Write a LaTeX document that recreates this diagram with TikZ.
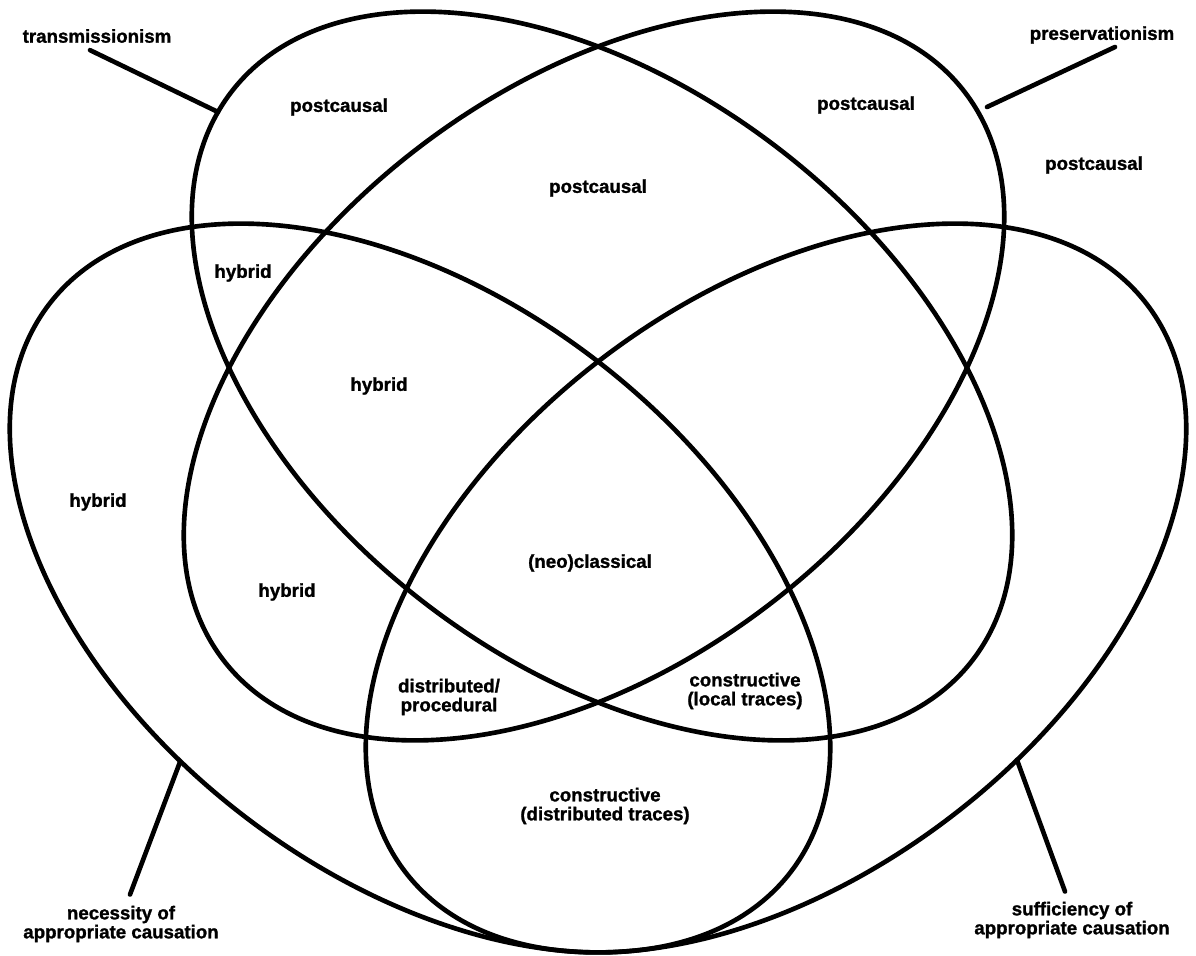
\documentclass[tikz,border=0pt]{standalone}
\usepackage{fontspec}
\setmainfont{Liberation Sans}[BoldFeatures={FakeBold=1.3}]
\begin{document}
\begin{tikzpicture}[x=0.025cm, y=-0.025cm, line join=round, line cap=round,
    txt/.style={font=\fontsize{13.3}{13.5}\selectfont\bfseries, align=center, inner sep=0pt},
    rim/.style={line width=3.3pt}]
\useasboundingbox (0,0) rectangle (1196,955);
\def\ra{467}\def\rb{288}
% the four sets: transmissionism, preservationism, necessity, sufficiency
\foreach \cx/\cy/\ang in {602/376/-37.4, 594/376/37.4, 420/588/-37.4, 776/588/37.4}
  \draw[rim, rotate around={\ang:(\cx,\cy)}] (\cx,\cy) ellipse [x radius=\ra, y radius=\rb];
% set names
\node[txt] (trans) at (97,36) {transmissionism};
\node[txt] (pres) at (1102,35) {preservationism};
\node[txt] (nec) at (121,924) {necessity of\\appropriate causation};
\node[txt] (suf) at (1072,920) {sufficiency of\\appropriate causation};
\coordinate (Tpin) at (218,112);
\coordinate (Ppin) at (987,107);
\coordinate (Npin) at (180,762);
\coordinate (Spin) at (1017,760);
\draw[rim] ([shift={(-7,7)}]trans.south) -- (Tpin);
\draw[rim] ([shift={(13,3)}]pres.south) -- (Ppin);
\draw[rim] ([shift={(9,-11)}]nec.north) -- (Npin);
\draw[rim] ([shift={(-7,-10)}]suf.north) -- (Spin);
% regions
\node[txt] (pcT) at (339,107) {postcausal};
\node[txt] (pcTP) at (598,188) {postcausal};
\node[txt] (pcP) at (866,105) {postcausal};
\node[txt] (pcOut) at (1094,165) {postcausal};
\node[txt] (hyTN) at (243,273) {hybrid};
\node[txt] (hyTPN) at (379,386) {hybrid};
\node[txt] (hyN) at (98,502) {hybrid};
\node[txt] (hyPN) at (287,592) {hybrid};
\node[txt] (neo) at (590,563) {(neo)classical};
\node[txt] (dist) at (449,697) {distributed/\\procedural};
\node[txt] (local) at (745,691) {constructive\\(local traces)};
\node[txt] (distr) at (605,806) {constructive\\(distributed traces)};
\end{tikzpicture}
\end{document}
